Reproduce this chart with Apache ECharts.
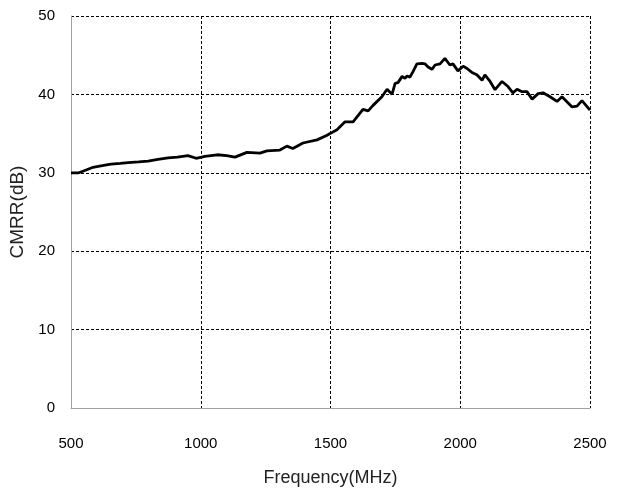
<!DOCTYPE html>
<html>
<head>
<meta charset="utf-8">
<script src="https://cdn.jsdelivr.net/npm/echarts@6/dist/echarts.min.js"></script>
<style>
  html, body { margin: 0; padding: 0; background: #fff; }
  #chart { width: 618px; height: 492px; }
</style>
</head>
<body>
<div id="chart"></div>
<script>
// 频率 (MHz) 与 CMRR (dB)
var freq = [500, 530, 546, 585, 620, 654, 690, 720, 760, 797, 835, 874, 910, 951, 982, 1016,
  1063, 1100, 1132, 1178, 1228, 1255, 1305, 1332, 1355, 1394, 1448, 1487, 1498, 1525,
  1556, 1587, 1625, 1645, 1664, 1698, 1718, 1737, 1749, 1760, 1776, 1787, 1795, 1806,
  1818, 1833, 1853, 1864, 1876, 1891, 1903, 1922, 1941, 1960, 1972, 1991, 2011, 2026,
  2045, 2064, 2084, 2095, 2115, 2134, 2161, 2184, 2203, 2219, 2238, 2257, 2277, 2300,
  2319, 2346, 2373, 2392, 2431, 2450, 2469, 2500];
var cmrr = [30.0, 30.0, 30.2, 30.7, 30.9, 31.1, 31.2, 31.3, 31.4, 31.5, 31.7, 31.9, 32.0, 32.2, 31.85, 32.1,
  32.3, 32.2, 32.0, 32.6, 32.5, 32.8, 32.9, 33.4, 33.1, 33.8, 34.2, 34.8, 35.0, 35.5,
  36.5, 36.5, 38.1, 37.9, 38.6, 39.7, 40.65, 40.0, 41.4, 41.5, 42.3, 42.05, 42.35, 42.2,
  42.9, 43.9, 43.95, 43.9, 43.5, 43.2, 43.75, 43.9, 44.6, 43.75, 43.9, 43.0, 43.6, 43.3,
  42.8, 42.5, 41.8, 42.5, 41.65, 40.6, 41.65, 41.0, 40.2, 40.65, 40.35, 40.35, 39.4, 40.1,
  40.2, 39.7, 39.1, 39.7, 38.4, 38.5, 39.2, 38.0];
var xTicks = [500, 2500, 500];   // min, max, interval
var yTicks = [0, 50, 10];

var points = freq.map(function (f, i) { return [f, cmrr[i]]; });

var myChart = echarts.init(document.getElementById('chart'));
var font = 'Liberation Sans, Arial, sans-serif';
var grid = { type: [3, 2], color: '#000', width: 1 };

var option = {
  animation: false,
  grid: { left: 71, top: 16, width: 519, height: 392 },
  xAxis: {
    type: 'value',
    min: xTicks[0], max: xTicks[1], interval: xTicks[2],
    name: 'Frequency(MHz)',
    nameLocation: 'middle',
    nameGap: 61,
    nameTextStyle: { fontFamily: font, fontSize: 18, color: '#222' },
    axisLine: { lineStyle: { color: '#a0a0a0', width: 1 } },
    axisTick: { show: false },
    axisLabel: {
      margin: 28, fontFamily: font, fontSize: 15, color: '#000',
      formatter: function (v) { return String(v); }
    },
    splitLine: { show: true, lineStyle: grid }
  },
  yAxis: {
    type: 'value',
    min: yTicks[0], max: yTicks[1], interval: yTicks[2],
    name: 'CMRR(dB)',
    nameLocation: 'middle',
    nameGap: 44,
    nameTextStyle: { fontFamily: font, fontSize: 19, color: '#222' },
    axisLine: { show: true, lineStyle: { color: '#a0a0a0', width: 1 } },
    axisTick: { show: false },
    axisLabel: { margin: 16, fontFamily: font, fontSize: 15, color: '#000' },
    splitLine: { show: true, lineStyle: grid }
  },
  series: [{
    type: 'line',
    data: points,
    symbol: 'none',
    lineStyle: { color: '#000', width: 2.8 }
  }]
};
myChart.setOption(option);
</script>
</body>
</html>
